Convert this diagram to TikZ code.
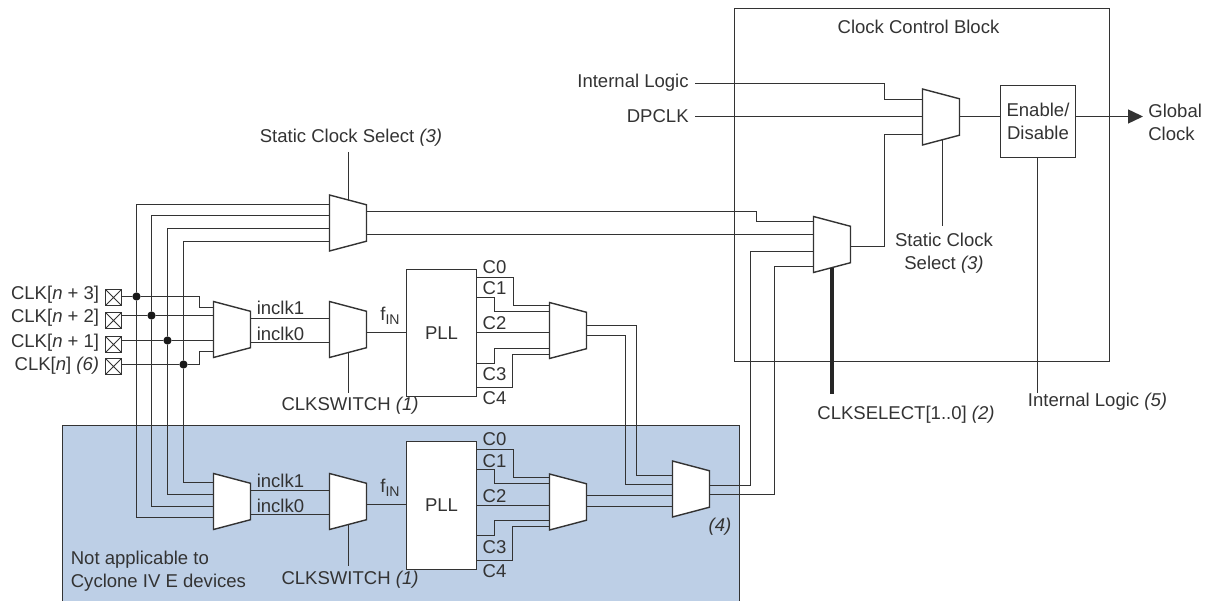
\documentclass[tikz,border=0pt]{standalone}
\usepackage{fontspec}
\setmainfont{Liberation Sans}
\usepackage{xcolor}
\usepackage{tikz}
\usetikzlibrary{calc,arrows.meta,positioning,shapes.geometric}
\definecolor{wirec}{HTML}{333333}
\definecolor{bluebg}{HTML}{BDCFE6}
\newcommand{\fin}{f\raisebox{-2.4pt}{\fontsize{8}{10}\selectfont IN}}
\tikzset{
  ar/.style={-{Triangle[length=3mm,width=2.8mm]},wirec,line width=0.8pt},
  wire/.style={draw=wirec,line width=0.8pt},
  busw/.style={draw=black!85,line width=2.27pt},
  lbl/.style={font=\fontsize{10.55}{13}\selectfont,text=wirec,inner sep=0pt,align=center},
  mux/.style={trapezium,trapezium stretches=true,trapezium left angle=74.15,trapezium right angle=74.15,
    shape border rotate=270,minimum width=1.12cm,minimum height=0.74cm,inner sep=0pt,outer sep=0pt,
    draw=wirec,line width=0.8pt,fill=white,execute at begin node={\phantom{x}}},
  boxn/.style={rectangle,draw=wirec,line width=0.8pt,fill=white,inner sep=0pt,outer sep=0pt,
    font=\fontsize{10.55}{13}\selectfont,text=wirec,align=center},
  padbox/.style={rectangle,draw=wirec,line width=0.8pt,minimum size=0.32cm,inner sep=0pt,outer sep=0pt,
    path picture={\draw[wirec,line width=0.6pt] (path picture bounding box.south west)--(path picture bounding box.north east)
      (path picture bounding box.north west)--(path picture bounding box.south east);}},
  jdot/.style={circle,fill=black!90,minimum size=0.165cm,inner sep=0pt}
}

\begin{document}
\begin{tikzpicture}[x=0.02cm,y=-0.02cm]
\useasboundingbox (0,0) rectangle (1208,601);
% shaded area and control block
\draw[wire,fill=bluebg] (62.5,601)--(62.5,425.5)--(739.5,425.5)--(739.5,601);
\node[rectangle,draw=wirec,line width=0.8pt,minimum width=7.5cm,minimum height=7.06cm,inner sep=0pt,outer sep=0pt] (ccb) at (922,185) {};
\node[lbl] (ccbt) at (918.5,27) {Clock Control Block};
% pads
\node[padbox] (clk3) at (113.5,297.5) {};
\node[padbox] (clk2) at (113.5,320.5) {};
\node[padbox] (clk1) at (113.5,344.5) {};
\node[padbox] (clk0) at (113.5,366.5) {};
\node[lbl,anchor=east] (clk3t) at (99.5,295) {CLK[\textit{n} + 3]};
\node[lbl,anchor=east] (clk2t) at (99.5,318) {CLK[\textit{n} + 2]};
\node[lbl,anchor=east] (clk1t) at (99.5,343) {CLK[\textit{n} + 1]};
\node[lbl,anchor=east] (clk0t) at (99.5,366) {CLK[\textit{n}] \textit{(6)}};
\node[jdot] (j3) at (136.5,296.5) {};
\node[jdot] (j2) at (151.5,315.5) {};
\node[jdot] (j1) at (167.5,340.5) {};
\node[jdot] (j0) at (183.5,364.5) {};
% muxes
\node[mux] (smux) at (348,223) {};
\node[mux] (imuxu) at (232,329.5) {};
\node[mux] (swmuxu) at (348,329.5) {};
\node[mux] (omuxu) at (568,330.5) {};
\node[mux] (imuxl) at (232,501.5) {};
\node[mux] (swmuxl) at (348,501.5) {};
\node[mux] (omuxl) at (568,502) {};
\node[mux] (lastmux) at (691,489) {};
\node[mux] (gmux) at (832,244.5) {};
\node[mux] (tmux) at (941,117) {};
% PLLs and enable block
\node[boxn,minimum width=1.4cm,minimum height=2.54cm] (pllu) at (441.5,333) {PLL};
\node[boxn,minimum width=1.4cm,minimum height=2.56cm] (plll) at (441.5,505.5) {PLL};
\node[boxn,minimum width=1.5cm,minimum height=1.44cm] (endis) at (1038,121.5) {Enable/\\Disable};
% bus from the pads
\draw[wire] (j3)--(136.5,204.5)--(smux.west |- 0,204.5);
\draw[wire] (j2)--(151.5,215.5)--(smux.west |- 0,215.5);
\draw[wire] (j1)--(167.5,228.5)--(smux.west |- 0,228.5);
\draw[wire] (j0)--(183.5,241.5)--(smux.west |- 0,241.5);
\draw[wire] (j3)--(136.5,517.5)--(imuxl.west |- 0,517.5);
\draw[wire] (j2)--(151.5,506.5)--(imuxl.west |- 0,506.5);
\draw[wire] (j1)--(167.5,494.5)--(imuxl.west |- 0,494.5);
\draw[wire] (j0)--(183.5,482.5)--(imuxl.west |- 0,482.5);
\draw[wire] (clk3.east |- j3)--(j3)--(199.5,296.5)--(199.5,307.5)--(imuxu.west |- 0,307.5);
\draw[wire] (clk2.east |- j2)--(j2)--(imuxu.west |- j2);
\draw[wire] (clk1.east |- j1)--(j1)--(imuxu.west |- j1);
\draw[wire] (clk0.east |- j0)--(j0)--(199.5,364.5)--(199.5,351.5)--(imuxu.west |- 0,351.5);
% upper branch
\draw[wire] (imuxu.east |- 0,318.5)--(swmuxu.west |- 0,318.5);
\draw[wire] (imuxu.east |- 0,342.5)--(swmuxu.west |- 0,342.5);
\draw[wire] (swmuxu.east |- 0,332.5)--(pllu.west |- 0,332.5);
\draw[wire] (pllu.east |- 0,277.5)--(513.5,277.5)--(513.5,305.5)--(omuxu.west |- 0,305.5);
\draw[wire] (pllu.east |- 0,297.5)--(494.5,297.5)--(494.5,311.5)--(omuxu.west |- 0,311.5);
\draw[wire] (pllu.east |- 0,332.5)--(omuxu.west |- 0,332.5);
\draw[wire] (pllu.east |- 0,363.5)--(494.5,363.5)--(494.5,348.5)--(omuxu.west |- 0,348.5);
\draw[wire] (pllu.east |- 0,387.5)--(512.5,387.5)--(512.5,354.5)--(omuxu.west |- 0,354.5);
\draw[wire] (omuxu.east |- 0,325.5)--(636.5,325.5)--(636.5,475.5)--(lastmux.west |- 0,475.5);
\draw[wire] (omuxu.east |- 0,335.5)--(625.5,335.5)--(625.5,484.5)--(lastmux.west |- 0,484.5);
% lower branch
\draw[wire] (imuxl.east |- 0,490.5)--(swmuxl.west |- 0,490.5);
\draw[wire] (imuxl.east |- 0,514.5)--(swmuxl.west |- 0,514.5);
\draw[wire] (swmuxl.east |- 0,504.5)--(plll.west |- 0,504.5);
\draw[wire] (plll.east |- 0,449.5)--(513.5,449.5)--(513.5,477.5)--(omuxl.west |- 0,477.5);
\draw[wire] (plll.east |- 0,469.5)--(494.5,469.5)--(494.5,483.5)--(omuxl.west |- 0,483.5);
\draw[wire] (plll.east |- 0,505.5)--(omuxl.west |- 0,505.5);
\draw[wire] (plll.east |- 0,535.5)--(494.5,535.5)--(494.5,520.5)--(omuxl.west |- 0,520.5);
\draw[wire] (plll.east |- 0,560.5)--(512.5,560.5)--(512.5,526.5)--(omuxl.west |- 0,526.5);
\draw[wire] (omuxl.east |- 0,495.5)--(lastmux.west |- 0,495.5);
\draw[wire] (omuxl.east |- 0,506.5)--(lastmux.west |- 0,506.5);
% into the clock control block
\draw[wire] (lastmux.east |- 0,485.5)--(750.5,485.5)--(750.5,251.5)--(gmux.west |- 0,251.5);
\draw[wire] (lastmux.east |- 0,494.5)--(774.5,494.5)--(774.5,266.5)--(gmux.west |- 0,266.5);
\draw[wire] (smux.east |- 0,211.5)--(756.5,211.5)--(756.5,221.5)--(gmux.west |- 0,221.5);
\draw[wire] (smux.east |- 0,234.5)--(gmux.west |- 0,234.5);
\draw[wire] (gmux.east |- 0,246.5)--(884.5,246.5)--(884.5,134.5)--(tmux.west |- 0,134.5);
\coordinate (ilin) at (695,83.5);
\coordinate (dpin) at (695,116.5);
\coordinate (gout) at (1143,116.5);
\draw[wire] (ilin)--(884.5,83.5)--(884.5,99.5)--(tmux.west |- 0,99.5);
\draw[wire] (dpin)--(tmux.west |- dpin);
\draw[wire] (tmux.east |- dpin)--(endis.west |- dpin);
\draw[ar] (endis.east |- gout)--(gout);
% select lines
\draw[wire] (348.5,152)--(348.5,200);
\draw[wire] (348.5,353)--(348.5,393);
\draw[wire] (348.5,525)--(348.5,566);
\draw[wire] (942.5,139)--(942.5,226);
\draw[wire] (1037.5,0 |- endis.south)--(1037.5,393);
\draw[busw] (831.5,268)--(831.5,394);
% labels
\node[lbl] (sclk) at (351,138) {Static Clock Select \textit{(3)}};
\node[lbl,anchor=east] (ilt) at (689,82.5) {Internal Logic};
\node[lbl,anchor=east] (dpt) at (689,116.5) {DPCLK};
\node[lbl,anchor=west,align=left] (gclk) at (1148,122) {Global\\Clock};
\node[lbl] (tsel) at (944,253) {Static Clock\\Select \textit{(3)}};
\node[lbl] (csel) at (906,414.5) {CLKSELECT[1..0] \textit{(2)}};
\node[lbl] (ilf) at (1097.5,401.5) {Internal Logic \textit{(5)}};
\node[lbl] (inu1) at (280.5,308) {inclk1};
\node[lbl] (inu0) at (280.5,334) {inclk0};
\node[lbl] (inl1) at (280.5,481) {inclk1};
\node[lbl] (inl0) at (280.5,506) {inclk0};
\node[lbl] (fu) at (390,316) {\fin};
\node[lbl] (fl) at (390,488) {\fin};
\node[lbl] (swu) at (350,406) {CLKSWITCH \textit{(1)}};
\node[lbl] (swl) at (350,580) {CLKSWITCH \textit{(1)}};
\node[lbl] (cu0) at (494.5,266.7) {C0};
\node[lbl] (cu1) at (494.5,288) {C1};
\node[lbl] (cu2) at (494.5,323) {C2};
\node[lbl] (cu3) at (494.5,374) {C3};
\node[lbl] (cu4) at (494.5,398) {C4};
\node[lbl] (cl0) at (494.5,439) {C0};
\node[lbl] (cl1) at (494.5,460.7) {C1};
\node[lbl] (cl2) at (494.5,496) {C2};
\node[lbl] (cl3) at (494.5,546.7) {C3};
\node[lbl] (cl4) at (494.5,570.7) {C4};
\node[lbl] (nfour) at (720,527) {\textit{(4)}};
\node[lbl,anchor=west,align=left] (nota) at (70.5,571.3) {Not applicable to\\Cyclone IV E devices};
\end{tikzpicture}
\end{document}
